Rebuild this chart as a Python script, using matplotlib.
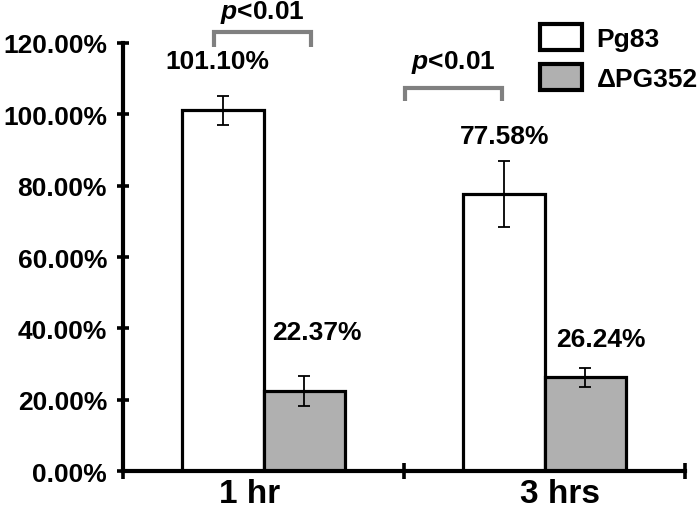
import matplotlib
matplotlib.use("Agg")
import matplotlib.pyplot as plt
import numpy as np
from matplotlib.patches import Patch
from matplotlib.ticker import FuncFormatter

plt.rcParams['font.family'] = ['Liberation Sans', 'DejaVu Sans']
plt.rcParams['font.weight'] = 'bold'
plt.rcParams['mathtext.fontset'] = 'custom'
plt.rcParams['mathtext.it'] = 'Liberation Sans:italic:bold'
plt.rcParams['mathtext.rm'] = 'Liberation Sans:bold'

# ---- data ----
categories = ['1 hr', '3 hrs']
series_names = ['Pg83', '\u0394PG352']
pg83 = [101.10, 77.58]
pg83_err = [4.0, 9.3]
dpg352 = [22.37, 26.24]
dpg352_err = [4.2, 2.6]
yticks = [0, 20, 40, 60, 80, 100, 120]
p_text = '$p$<0.01'

# ---- layout ----
fig = plt.figure(figsize=(7.0, 5.1), dpi=100)
ax = fig.add_axes([123/700, 1-472/510, (685-123)/700, (472-44)/510])

x = np.arange(len(categories))
w = 0.29
edge_lw = 2.3
ax.bar(x - w/2, pg83, w, color='white', edgecolor='black', linewidth=edge_lw, zorder=2)
ax.bar(x + w/2, dpg352, w, color='#b0b0b0', edgecolor='black', linewidth=edge_lw, zorder=2)
ax.errorbar(x - w/2, pg83, yerr=pg83_err, fmt='none', ecolor='black', elinewidth=1.3,
            capsize=4, capthick=1.3, zorder=3)
ax.errorbar(x + w/2, dpg352, yerr=dpg352_err, fmt='none', ecolor='black', elinewidth=1.3,
            capsize=4, capthick=1.3, zorder=3)

ax.set_xlim(-0.5, len(categories) - 0.5)
ax.set_ylim(0, 120)
ax.set_yticks(yticks)
ax.yaxis.set_major_formatter(FuncFormatter(lambda v, p: f'{v:.2f}%'))
ax.set_xticks(np.arange(len(categories) + 1) - 0.5)
ax.set_xticklabels([])

for s in ['top', 'right']:
    ax.spines[s].set_visible(False)
for s in ['left', 'bottom']:
    ax.spines[s].set_linewidth(3.0)
    ax.spines[s].set_capstyle('projecting')
ax.tick_params(axis='y', direction='inout', length=9, width=2.6, labelsize=19, pad=7)
ax.tick_params(axis='x', direction='inout', length=12, width=2.6)

# category labels
cat_offsets = [-0.048, 0.055]
for i, c in enumerate(categories):
    ax.text(x[i] + cat_offsets[i], -8.7, c, ha='center', va='baseline', fontsize=24,
            fontweight='bold', clip_on=False)

# value labels
lab_dx1 = [-0.02, 0.004]
lab_y1 = [115.0, 93.9]
lab_dx2 = [0.046, 0.055]
lab_y2 = [39.0, 37.0]
for i in range(len(categories)):
    ax.text(x[i] - w/2 + lab_dx1[i], lab_y1[i], f'{pg83[i]:.2f}%', ha='center', va='center',
            fontsize=19, fontweight='bold', clip_on=False)
    ax.text(x[i] + w/2 + lab_dx2[i], lab_y2[i], f'{dpg352[i]:.2f}%', ha='center', va='center',
            fontsize=19, fontweight='bold', clip_on=False)

# significance brackets
brackets = [(-0.176, 0.169, 123.0, 118.9, 128.7), (0.503, 0.849, 107.4, 103.7, 114.7)]
for x0, x1, ytop, ybot, ytxt in brackets:
    ax.plot([x0, x0, x1, x1], [ybot, ytop, ytop, ybot], color='#808080', lw=3.0,
            solid_capstyle='butt', solid_joinstyle='miter', clip_on=False, zorder=4)
    ax.text((x0 + x1) / 2, ytxt, p_text, ha='center', va='center', fontsize=19,
            fontweight='bold', clip_on=False)

# legend
handles = [Patch(facecolor='white', edgecolor='black', linewidth=3.0),
           Patch(facecolor='#b0b0b0', edgecolor='black', linewidth=3.0)]
fig.legend(handles, series_names, loc='upper left', bbox_to_anchor=(540/700, 1-25/510),
           frameon=False, handlelength=1.6, handleheight=1.15,
           handletextpad=0.55, labelspacing=0.5, borderpad=0, borderaxespad=0,
           prop={'weight': 'bold', 'size': 19})

fig.savefig('out.png', dpi=100)
